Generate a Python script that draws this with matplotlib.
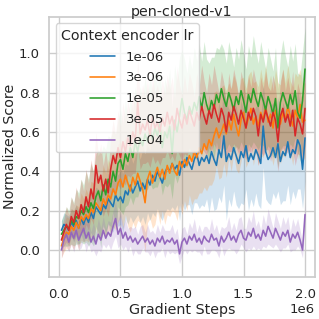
import numpy as np
import matplotlib
matplotlib.use("Agg")
import matplotlib.pyplot as plt
import seaborn as sns

# gradient steps (every 20k)
steps = np.arange(1, 101) * 20000

labels = ['1e-06', '3e-06', '1e-05', '3e-05', '1e-04']
colors = ['tab:blue', 'tab:orange', 'tab:green', 'tab:red', 'tab:purple']

mean_1e6 = [0.10,0.13,0.12,0.10,0.14,0.12,0.15,0.11,0.16,0.13,
            0.17,0.14,0.19,0.16,0.22,0.20,0.18,0.23,0.21,0.26,
            0.24,0.22,0.28,0.25,0.27,0.24,0.30,0.28,0.33,0.29,
            0.32,0.35,0.30,0.34,0.31,0.36,0.33,0.38,0.35,0.40,
            0.37,0.34,0.39,0.42,0.40,0.44,0.41,0.43,0.38,0.45,
            0.42,0.47,0.44,0.41,0.46,0.49,0.43,0.47,0.45,0.48,
            0.44,0.50,0.46,0.43,0.51,0.47,0.58,0.45,0.49,0.46,
            0.52,0.48,0.44,0.50,0.47,0.53,0.45,0.49,0.46,0.51,
            0.48,0.44,0.63,0.50,0.46,0.48,0.52,0.47,0.54,0.45,
            0.50,0.48,0.55,0.47,0.51,0.49,0.56,0.53,0.41,0.57]
mean_3e6 = [0.02,0.06,0.09,0.08,0.12,0.10,0.14,0.11,0.17,0.15,
            0.18,0.16,0.21,0.19,0.24,0.22,0.20,0.26,0.23,0.28,
            0.26,0.31,0.28,0.34,0.36,0.32,0.38,0.34,0.30,0.37,
            0.33,0.39,0.35,0.31,0.24,0.36,0.40,0.34,0.38,0.42,
            0.37,0.41,0.36,0.43,0.39,0.44,0.40,0.38,0.45,0.42,
            0.46,0.43,0.48,0.45,0.50,0.47,0.52,0.49,0.54,0.51,
            0.56,0.53,0.58,0.62,0.57,0.60,0.64,0.59,0.66,0.61,
            0.69,0.63,0.58,0.66,0.70,0.62,0.67,0.72,0.64,0.68,
            0.63,0.70,0.66,0.73,0.65,0.69,0.62,0.71,0.67,0.64,
            0.70,0.66,0.73,0.68,0.63,0.71,0.67,0.74,0.65,0.66]
mean_1e5 = [0.08,0.10,0.12,0.11,0.15,0.13,0.17,0.16,0.20,0.18,
            0.22,0.19,0.24,0.21,0.27,0.30,0.25,0.33,0.28,0.36,
            0.32,0.40,0.35,0.44,0.46,0.41,0.49,0.45,0.52,0.47,
            0.55,0.50,0.57,0.53,0.59,0.55,0.61,0.56,0.62,0.58,
            0.64,0.52,0.60,0.57,0.63,0.49,0.66,0.60,0.68,0.77,
            0.70,0.66,0.73,0.69,0.75,0.71,0.78,0.72,0.80,0.74,
            0.70,0.76,0.72,0.79,0.75,0.82,0.77,0.73,0.80,0.76,
            0.71,0.78,0.74,0.81,0.76,0.70,0.79,0.75,0.82,0.77,
            0.73,0.80,0.76,0.71,0.78,0.74,0.69,0.77,0.62,0.75,
            0.80,0.76,0.72,0.79,0.74,0.81,0.70,0.67,0.76,0.92]
mean_3e5 = [0.05,0.09,0.13,0.10,0.17,0.14,0.20,0.16,0.23,0.19,
            0.27,0.22,0.31,0.26,0.43,0.34,0.38,0.30,0.36,0.29,
            0.41,0.48,0.44,0.52,0.47,0.55,0.50,0.57,0.53,0.60,
            0.56,0.75,0.59,0.64,0.61,0.66,0.58,0.68,0.62,0.65,
            0.60,0.67,0.63,0.70,0.64,0.68,0.61,0.72,0.66,0.62,
            0.69,0.64,0.71,0.67,0.63,0.70,0.66,0.73,0.68,0.64,
            0.71,0.67,0.74,0.69,0.65,0.72,0.68,0.60,0.70,0.66,
            0.73,0.69,0.64,0.71,0.67,0.62,0.70,0.66,0.72,0.68,
            0.58,0.69,0.65,0.71,0.67,0.63,0.70,0.66,0.55,0.68,
            0.72,0.65,0.69,0.63,0.71,0.58,0.67,0.64,0.59,0.72]
mean_1e4 = [0.00,0.05,0.08,0.04,0.09,0.06,0.10,0.05,0.08,0.11,
            0.06,0.09,0.04,0.07,0.03,0.08,0.05,0.10,0.06,0.09,
            0.07,0.12,0.16,0.08,0.11,0.06,0.09,0.05,0.07,0.04,
            0.06,0.03,0.05,0.07,0.04,0.06,0.03,0.05,0.02,0.06,
            0.04,0.07,0.03,0.05,0.04,0.06,0.03,0.05,-0.02,0.04,
            0.06,0.03,0.07,0.05,0.08,0.04,0.06,0.03,0.07,0.05,
            0.04,0.08,0.05,0.06,0.02,0.07,0.04,0.06,0.09,0.05,
            0.07,0.04,0.08,0.10,0.06,0.05,0.09,0.07,0.11,0.06,
            0.08,0.05,0.10,0.07,0.12,0.09,0.06,0.11,0.08,0.05,
            0.09,0.07,0.10,0.04,0.08,0.06,0.09,0.05,0.00,0.18]

std_1e6 = [0.05,0.06,0.06,0.07,0.07,0.08,0.08,0.09,0.08,0.09,
           0.10,0.09,0.10,0.11,0.10,0.11,0.12,0.11,0.12,0.13,
           0.12,0.13,0.14,0.13,0.14,0.15,0.14,0.15,0.16,0.15,
           0.16,0.17,0.16,0.17,0.18,0.17,0.18,0.19,0.18,0.19,
           0.20,0.19,0.20,0.21,0.20,0.22,0.21,0.20,0.23,0.21,
           0.22,0.24,0.21,0.23,0.22,0.25,0.22,0.24,0.23,0.22,
           0.25,0.23,0.26,0.22,0.24,0.23,0.25,0.30,0.23,0.24,
           0.22,0.25,0.23,0.26,0.24,0.22,0.25,0.23,0.24,0.22,
           0.25,0.23,0.21,0.24,0.22,0.25,0.23,0.21,0.24,0.22,
           0.25,0.23,0.22,0.24,0.21,0.23,0.25,0.22,0.20,0.22]
std_3e6 = [0.06,0.07,0.08,0.08,0.09,0.10,0.09,0.11,0.12,0.11,
           0.13,0.12,0.14,0.15,0.13,0.16,0.15,0.17,0.16,0.18,
           0.17,0.19,0.18,0.20,0.19,0.21,0.20,0.22,0.21,0.23,
           0.22,0.24,0.21,0.23,0.25,0.22,0.24,0.23,0.25,0.22,
           0.24,0.21,0.23,0.25,0.22,0.24,0.21,0.23,0.22,0.24,
           0.21,0.23,0.20,0.22,0.24,0.21,0.23,0.20,0.22,0.21,
           0.23,0.20,0.22,0.19,0.21,0.23,0.20,0.22,0.19,0.21,
           0.20,0.22,0.19,0.21,0.18,0.20,0.22,0.19,0.21,0.18,
           0.20,0.22,0.19,0.21,0.18,0.20,0.19,0.21,0.18,0.20,
           0.22,0.19,0.21,0.18,0.20,0.19,0.21,0.18,0.20,0.19]
std_1e5 = [0.07,0.08,0.10,0.09,0.12,0.11,0.14,0.13,0.16,0.15,
           0.18,0.17,0.20,0.19,0.22,0.21,0.24,0.20,0.23,0.22,
           0.25,0.21,0.24,0.22,0.26,0.23,0.27,0.22,0.25,0.24,
           0.28,0.23,0.26,0.25,0.29,0.24,0.27,0.25,0.30,0.26,
           0.28,0.24,0.27,0.25,0.29,0.23,0.28,0.26,0.30,0.25,
           0.27,0.24,0.26,0.23,0.28,0.25,0.27,0.24,0.26,0.23,
           0.25,0.22,0.26,0.24,0.27,0.23,0.25,0.22,0.26,0.24,
           0.22,0.25,0.23,0.26,0.24,0.22,0.25,0.23,0.27,0.24,
           0.22,0.26,0.23,0.21,0.25,0.23,0.22,0.26,0.20,0.24,
           0.27,0.23,0.21,0.25,0.22,0.24,0.20,0.22,0.25,0.21]
std_3e5 = [0.06,0.07,0.09,0.08,0.10,0.09,0.12,0.10,0.13,0.11,
           0.14,0.12,0.15,0.13,0.17,0.14,0.16,0.13,0.15,0.12,
           0.16,0.18,0.15,0.19,0.16,0.20,0.17,0.19,0.16,0.21,
           0.17,0.22,0.18,0.20,0.17,0.21,0.16,0.20,0.18,0.19,
           0.17,0.20,0.16,0.19,0.18,0.20,0.16,0.21,0.18,0.17,
           0.20,0.16,0.19,0.18,0.15,0.20,0.17,0.21,0.18,0.16,
           0.19,0.17,0.20,0.18,0.15,0.19,0.17,0.14,0.20,0.16,
           0.19,0.17,0.15,0.20,0.18,0.16,0.19,0.17,0.20,0.18,
           0.15,0.19,0.17,0.20,0.16,0.18,0.19,0.17,0.15,0.18,
           0.20,0.16,0.19,0.17,0.20,0.15,0.18,0.16,0.17,0.19]
std_1e4 = [0.04,0.05,0.06,0.05,0.06,0.07,0.06,0.05,0.07,0.06,
           0.07,0.06,0.05,0.07,0.06,0.08,0.06,0.07,0.05,0.06,
           0.07,0.08,0.09,0.07,0.08,0.06,0.07,0.06,0.05,0.07,
           0.06,0.05,0.07,0.06,0.05,0.07,0.06,0.05,0.06,0.07,
           0.05,0.06,0.07,0.05,0.06,0.07,0.05,0.06,0.05,0.07,
           0.06,0.05,0.07,0.06,0.08,0.05,0.07,0.06,0.05,0.07,
           0.06,0.08,0.05,0.07,0.06,0.05,0.07,0.06,0.08,0.05,
           0.07,0.06,0.08,0.07,0.05,0.06,0.08,0.07,0.09,0.06,
           0.07,0.05,0.08,0.06,0.09,0.07,0.05,0.08,0.07,0.06,
           0.08,0.06,0.07,0.05,0.08,0.06,0.07,0.05,0.04,0.06]

means = [mean_1e6, mean_3e6, mean_1e5, mean_3e5, mean_1e4]
stds = [std_1e6, std_3e6, std_1e5, std_3e5, std_1e4]

sns.set_theme(style='whitegrid')
plt.rcParams['font.family'] = ['DejaVu Sans']

fig = plt.figure(figsize=(3.19, 3.19), dpi=100)
ax = fig.add_axes([0.154, 0.1326, 0.833, 0.815])

for m, s, c, lab in zip(means, stds, colors, labels):
    m = np.array(m)
    s = np.array(s)
    ax.fill_between(steps, m - s, m + s, color=c, alpha=0.2, linewidth=0)
    ax.plot(steps, m, color=c, linewidth=1.15, label=lab)

ax.set_xlim(-0.08e6, 2.08e6)
ax.set_ylim(-0.136, 1.186)
ax.set_xticks([0, 0.5e6, 1.0e6, 1.5e6, 2.0e6])
ax.set_yticks([0.0, 0.2, 0.4, 0.6, 0.8, 1.0])
# no tick marks, so the label offset is just the pad
ax.tick_params(axis='x', labelsize=9.5, length=0, pad=8.1)
ax.tick_params(axis='y', labelsize=9.5, length=0, pad=6.8)
ax.xaxis.OFFSETTEXTPAD = 1.4
ax.xaxis.get_offset_text().set_fontsize(9.5)
ax.set_xlabel('Gradient Steps', fontsize=10.3, labelpad=1.3)
ax.set_ylabel('Normalized Score', fontsize=10.3, labelpad=1)
ax.set_title('pen-cloned-v1', fontsize=10.3, pad=0.3)
ax.legend(title='Context encoder lr', loc='upper left', fontsize=9.5,
          title_fontsize=10.3, handlelength=1.9, labelspacing=0.6)

fig.savefig('out.png', dpi=100)
